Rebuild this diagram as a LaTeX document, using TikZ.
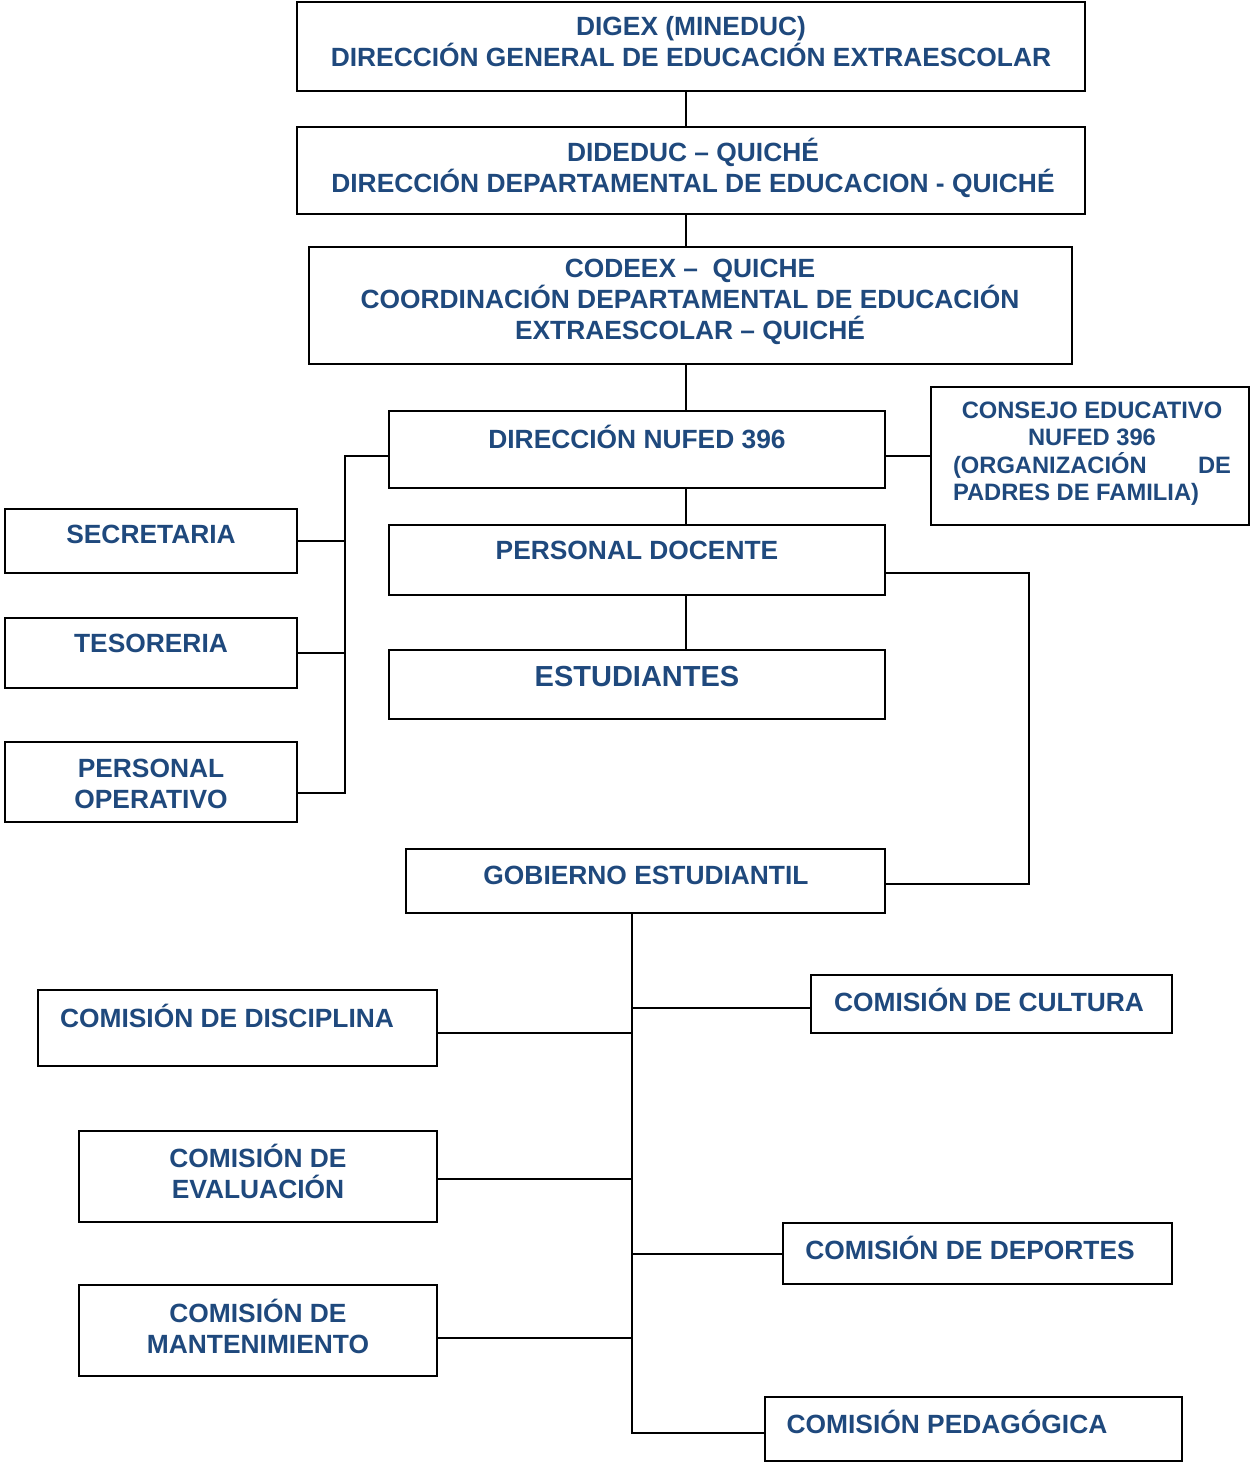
\documentclass[tikz,border=0pt]{standalone}
\usepackage{fontspec}
\setmainfont{Liberation Sans}
\usetikzlibrary{calc}
\definecolor{orgblue}{HTML}{1F497D}
\tikzset{box/.style={draw, line width=1.1pt, inner sep=0pt, fill=white}}
\tikzset{lbl/.style={text=orgblue, font=\bfseries\fontsize{15}{17.6}\selectfont, align=center, inner sep=0pt}}
\tikzset{link/.style={line width=1.1pt}}

\begin{document}
\begin{tikzpicture}[x=0.02cm, y=-0.02cm]
  \useasboundingbox (0,0) rectangle (1250,1463);
  % cajas
  \node[box, minimum width=15.76cm, minimum height=1.78cm] (dig) at (691,46.5) {};
  \node[box, minimum width=15.76cm, minimum height=1.74cm] (did) at (691,170.5) {};
  \node[box, minimum width=15.26cm, minimum height=2.34cm] (cod) at (690.5,305.5) {};
  \node[box, minimum width=9.92cm, minimum height=1.54cm] (dir) at (637,449.5) {};
  \node[box, minimum width=6.36cm, minimum height=2.76cm] (con) at (1090,456) {};
  \node[box, minimum width=5.84cm, minimum height=1.28cm] (sec) at (151,541) {};
  \node[box, minimum width=5.84cm, minimum height=1.40cm] (tes) at (151,653) {};
  \node[box, minimum width=5.84cm, minimum height=1.60cm] (ope) at (151,782) {};
  \node[box, minimum width=9.92cm, minimum height=1.40cm] (doc) at (637,560) {};
  \node[box, minimum width=9.92cm, minimum height=1.38cm] (est) at (637,684.5) {};
  \node[box, minimum width=9.58cm, minimum height=1.28cm] (gob) at (645.5,881) {};
  \node[box, minimum width=7.98cm, minimum height=1.52cm] (dis) at (237.5,1028) {};
  \node[box, minimum width=7.16cm, minimum height=1.82cm] (eva) at (258,1176.5) {};
  \node[box, minimum width=7.16cm, minimum height=1.82cm] (man) at (258,1330.5) {};
  \node[box, minimum width=7.22cm, minimum height=1.16cm] (cul) at (991.5,1004) {};
  \node[box, minimum width=7.78cm, minimum height=1.22cm] (dep) at (977.5,1253.5) {};
  \node[box, minimum width=8.34cm, minimum height=1.28cm] (ped) at (973.5,1429) {};
  % textos
  \node[lbl] (dig-t) at (691,42) {DIGEX (MINEDUC)\\DIRECCIÓN GENERAL DE EDUCACIÓN EXTRAESCOLAR};
  \node[lbl] (did-t) at (693,167.5) {DIDEDUC – QUICHÉ\\DIRECCIÓN DEPARTAMENTAL DE EDUCACION - QUICHÉ};
  \node[lbl] (cod-t) at (690,302) {CODEEX –\ \ QUICHE\\COORDINACIÓN DEPARTAMENTAL DE EDUCACIÓN\\EXTRAESCOLAR – QUICHÉ};
  \node[lbl] (dir-t) at (637,437) {DIRECCIÓN NUFED 396};
  \node[lbl, font=\bfseries\fontsize{13.5}{15.6}\selectfont, align=left] (con-t) at (1092,453.5)
    {\makebox[5.56cm][c]{CONSEJO EDUCATIVO}\\\makebox[5.56cm][c]{NUFED 396}\\\makebox[5.56cm][s]{(ORGANIZACIÓN\hfill DE}\\PADRES DE FAMILIA)};
  \node[lbl] (sec-t) at (151,534) {SECRETARIA};
  \node[lbl] (tes-t) at (151,643) {TESORERIA};
  \node[lbl] (ope-t) at (151,783.5) {PERSONAL\\OPERATIVO};
  \node[lbl] (doc-t) at (637,550) {PERSONAL DOCENTE};
  \node[lbl, font=\bfseries\fontsize{16.5}{19}\selectfont] (est-t) at (637,677) {ESTUDIANTES};
  \node[lbl] (gob-t) at (646,875) {GOBIERNO ESTUDIANTIL};
  \node[lbl] (dis-t) at (227,1016) {COMISIÓN DE DISCIPLINA};
  \node[lbl] (eva-t) at (258,1171.5) {COMISIÓN DE\\EVALUACIÓN};
  \node[lbl] (man-t) at (258,1326.5) {COMISIÓN DE\\MANTENIMIENTO};
  \node[lbl] (cul-t) at (989,1000) {COMISIÓN DE CULTURA};
  \node[lbl] (dep-t) at (970,1248) {COMISIÓN DE DEPORTES};
  \node[lbl] (ped-t) at (947,1422) {COMISIÓN PEDAGÓGICA};
  % lineas
  \coordinate (ax) at (686,0);
  \coordinate (lb) at (345,793);
  \coordinate (rb) at (1029,0);
  \coordinate (sp) at (632,1433);
  \draw[link] (dig.south -| ax) -- (did.north -| ax);
  \draw[link] (did.south -| ax) -- (cod.north -| ax);
  \draw[link] (cod.south -| ax) -- (dir.north -| ax);
  \draw[link] (dir.south -| ax) -- (doc.north -| ax);
  \draw[link] (doc.south -| ax) -- (est.north -| ax);
  \draw[link] (con.west -| dir.east) -- (con.west);
  \draw[link] (dir.west |- con.west) -| (lb) -- (ope.east |- lb);
  \draw[link] (sec.east) -- (sec.east -| lb);
  \draw[link] (tes.east) -- (tes.east -| lb);
  \draw[link] ([yshift=-0.26cm]doc.east) -| ([yshift=-0.06cm]gob.east -| rb) -- ([yshift=-0.06cm]gob.east);
  \draw[link] (gob.south -| sp) -- (sp) -- (sp -| ped.west);
  \draw[link] ([yshift=-0.08cm]cul.west) -- ([yshift=-0.08cm]cul.west -| sp);
  \draw[link] ([yshift=-0.1cm]dis.east) -- ([yshift=-0.1cm]dis.east -| sp);
  \draw[link] ([yshift=-0.05cm]eva.east) -- ([yshift=-0.05cm]eva.east -| sp);
  \draw[link] ([yshift=-0.01cm]dep.west) -- ([yshift=-0.01cm]dep.west -| sp);
  \draw[link] ([yshift=-0.15cm]man.east) -- ([yshift=-0.15cm]man.east -| sp);
\end{tikzpicture}
\end{document}
